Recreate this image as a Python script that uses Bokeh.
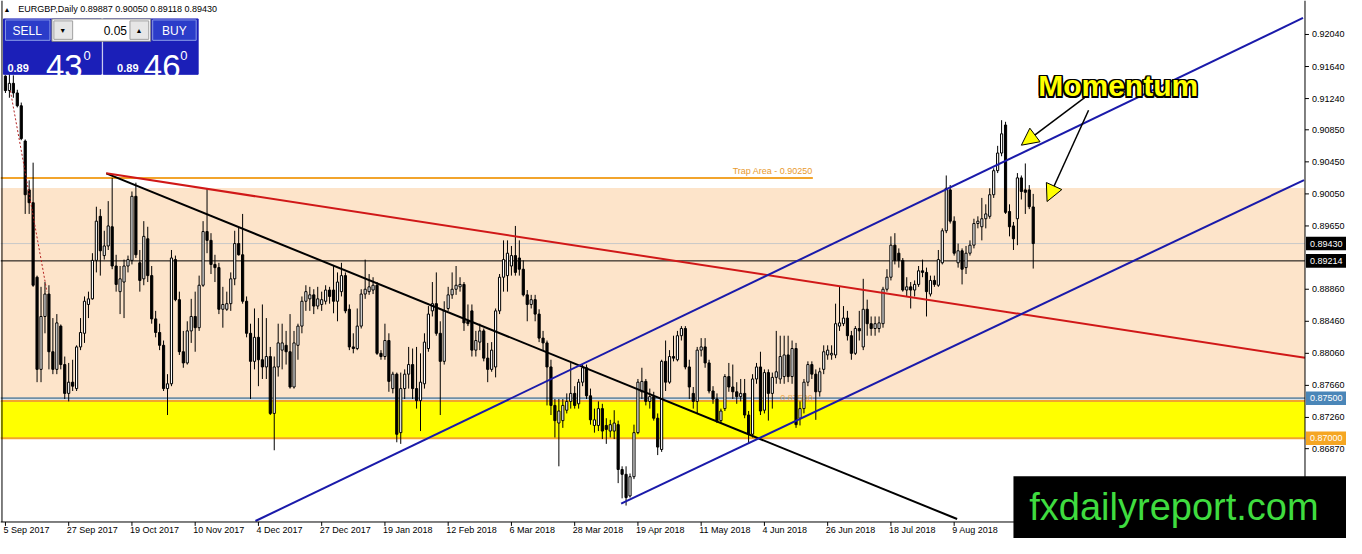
from bokeh.plotting import figure
from bokeh.models import Range1d, Arrow, NormalHead, ColumnDataSource
from bokeh.core.properties import value
from bokeh.embed import file_html
from bokeh.resources import INLINE

FONT = "Liberation Sans"

# ---------------- data ----------------
symbol = "EURGBP"
timeframe = "Daily"

date_tick_bars = [0, 16, 32, 48, 64, 80, 96, 112, 128, 144, 160, 176, 192, 208, 224, 240]
date_tick_labels = ["5 Sep 2017", "27 Sep 2017", "19 Oct 2017", "10 Nov 2017", "4 Dec 2017",
                    "27 Dec 2017", "19 Jan 2018", "12 Feb 2018", "6 Mar 2018", "28 Mar 2018",
                    "19 Apr 2018", "11 May 2018", "4 Jun 2018", "26 Jun 2018", "18 Jul 2018",
                    "9 Aug 2018"]
price_ticks = [0.92040, 0.91640, 0.91240, 0.90850, 0.90450, 0.90050, 0.89650,
               0.88860, 0.88460, 0.88060, 0.87660, 0.87260, 0.86870, 0.86470]
price_tick_labels = ["0.92040", "0.91640", "0.91240", "0.90850", "0.90450", "0.90050", "0.89650",
                     "0.88860", "0.88460", "0.88060", "0.87660", "0.87260", "0.86870", "0.86470"]

opens = [0.9152,0.9134,0.9143,0.9131,0.9115,0.9071,0.9010,0.8994,0.8901,0.8786,
         0.8852,0.8880,0.8808,0.8786,0.8840,0.8792,0.8756,0.8770,0.8762,0.8814,
         0.8831,0.8867,0.8874,0.8922,0.8977,0.8928,0.8940,0.8964,0.8915,0.8883,
         0.8895,0.8915,0.8922,0.9002,0.8919,0.8899,0.8949,0.8903,0.8849,0.8832,
         0.8816,0.8762,0.8768,0.8923,0.8873,0.8808,0.8794,0.8834,0.8852,0.8838,
         0.8891,0.8958,0.8947,0.8917,0.8913,0.8861,0.8861,0.8868,0.8899,0.8943,
         0.8929,0.8871,0.8831,0.8796,0.8826,0.8798,0.8789,0.8802,0.8731,0.8789,
         0.8810,0.8816,0.8808,0.8764,0.8816,0.8840,0.8871,0.8874,0.8879,0.8865,
         0.8867,0.8871,0.8885,0.8885,0.8871,0.8883,0.8903,0.8861,0.8814,0.8812,
         0.8840,0.8880,0.8883,0.8885,0.8891,0.8806,0.8802,0.8822,0.8762,0.8780,
         0.8707,0.8762,0.8780,0.8792,0.8762,0.8747,0.8768,0.8812,0.8859,0.8868,
         0.8831,0.8796,0.8862,0.8879,0.8886,0.8889,0.8892,0.8846,0.8859,0.8810,
         0.8820,0.8834,0.8800,0.8786,0.8789,0.8859,0.8901,0.8903,0.8915,0.8928,
         0.8925,0.8911,0.8879,0.8867,0.8873,0.8855,0.8825,0.8819,0.8789,0.8741,
         0.8719,0.8722,0.8735,0.8746,0.8756,0.8743,0.8770,0.8788,0.8753,0.8716,
         0.8716,0.8737,0.8716,0.8709,0.8709,0.8717,0.8661,0.8655,0.8628,0.8652,
         0.8707,0.8758,0.8771,0.8746,0.8752,0.8725,0.8686,0.8796,0.8770,0.8802,
         0.8798,0.8828,0.8837,0.8789,0.8756,0.8746,0.8810,0.8814,0.8794,0.8759,
         0.8749,0.8722,0.8737,0.8777,0.8764,0.8758,0.8752,0.8756,0.8729,0.8705,
         0.8774,0.8789,0.8735,0.8782,0.8756,0.8776,0.8774,0.8777,0.8804,0.8777,
         0.8812,0.8725,0.8737,0.8770,0.8792,0.8780,0.8758,0.8786,0.8804,0.8804,
         0.8804,0.8840,0.8843,0.8850,0.8828,0.8806,0.8837,0.8814,0.8861,0.8843,
         0.8837,0.8837,0.8843,0.8886,0.8901,0.8941,0.8931,0.8922,0.8885,0.8889,
         0.8885,0.8892,0.8909,0.8907,0.8880,0.8897,0.8891,0.8919,0.8959,0.9010,
         0.8971,0.8919,0.8934,0.8913,0.8931,0.8941,0.8968,0.8964,0.8974,0.8977,
         0.9004,0.9034,0.9056,0.9091,0.8983,0.8965,0.8974,0.9025,0.9010,0.9010,
         0.89887]
highs = [0.9153,0.9155,0.9153,0.9135,0.9119,0.9073,0.9022,0.9044,0.8903,0.8889,
         0.8895,0.8891,0.8850,0.8855,0.8842,0.8802,0.8794,0.8798,0.8816,0.8850,
         0.8877,0.8883,0.8931,0.8989,0.8986,0.8959,0.8996,0.9025,0.8929,0.8915,
         0.8923,0.8928,0.9008,0.9019,0.8935,0.8971,0.8964,0.8915,0.8859,0.8843,
         0.8822,0.8780,0.8935,0.8928,0.8883,0.8834,0.8846,0.8874,0.8883,0.8903,
         0.8971,0.9012,0.8956,0.8929,0.8919,0.8889,0.8883,0.8907,0.8959,0.8964,
         0.8980,0.8877,0.8843,0.8862,0.8850,0.8867,0.8850,0.8814,0.8802,0.8843,
         0.8843,0.8834,0.8855,0.8834,0.8843,0.8877,0.8891,0.8889,0.8886,0.8889,
         0.8883,0.8891,0.8889,0.8915,0.8907,0.8919,0.8907,0.8867,0.8831,0.8862,
         0.8886,0.8923,0.8905,0.8901,0.8895,0.8810,0.8843,0.8831,0.8783,0.8782,
         0.8782,0.8786,0.8814,0.8812,0.8814,0.8806,0.8831,0.8865,0.8895,0.8907,
         0.8846,0.8871,0.8889,0.8907,0.8915,0.8901,0.8895,0.8867,0.8867,0.8834,
         0.8843,0.8837,0.8819,0.8820,0.8862,0.8905,0.8947,0.8947,0.8940,0.8965,
         0.8947,0.8922,0.8885,0.8879,0.8879,0.8861,0.8834,0.8822,0.8798,0.8749,
         0.8749,0.8749,0.8756,0.8794,0.8765,0.8774,0.8792,0.8792,0.8762,0.8737,
         0.8746,0.8743,0.8725,0.8723,0.8735,0.8722,0.8665,0.8665,0.8656,0.8717,
         0.8774,0.8788,0.8774,0.8762,0.8758,0.8731,0.8798,0.8822,0.8810,0.8828,
         0.8834,0.8840,0.8840,0.8798,0.8764,0.8814,0.8825,0.8825,0.8798,0.8765,
         0.8756,0.8737,0.8780,0.8794,0.8792,0.8770,0.8774,0.8774,0.8734,0.8780,
         0.8794,0.8808,0.8786,0.8786,0.8782,0.8834,0.8828,0.8828,0.8828,0.8822,
         0.8819,0.8746,0.8774,0.8796,0.8796,0.8786,0.8788,0.8816,0.8816,0.8816,
         0.8868,0.8889,0.8865,0.8859,0.8834,0.8840,0.8859,0.8899,0.8873,0.8852,
         0.8852,0.8852,0.8889,0.8911,0.8952,0.8956,0.8937,0.8925,0.8901,0.8895,
         0.8897,0.8915,0.8923,0.8913,0.8903,0.8903,0.8935,0.8962,0.9028,0.9016,
         0.8977,0.8943,0.8937,0.8940,0.8947,0.8974,0.8977,0.9000,0.8992,0.9012,
         0.9037,0.9065,0.9097,0.9095,0.8992,0.8970,0.9031,0.9028,0.9043,0.9016,
         0.90050]
lows = [0.9131,0.9125,0.9125,0.9113,0.9072,0.8980,0.8980,0.8889,0.8770,0.8770,
        0.8831,0.8786,0.8780,0.8780,0.8786,0.8749,0.8746,0.8759,0.8759,0.8810,
        0.8819,0.8850,0.8873,0.8907,0.8903,0.8923,0.8935,0.8911,0.8883,0.8855,
        0.8850,0.8907,0.8917,0.8925,0.8883,0.8891,0.8895,0.8843,0.8826,0.8810,
        0.8759,0.8729,0.8765,0.8871,0.8804,0.8788,0.8792,0.8819,0.8808,0.8834,
        0.8889,0.8931,0.8905,0.8895,0.8855,0.8838,0.8859,0.8859,0.8891,0.8928,
        0.8868,0.8826,0.8749,0.8786,0.8765,0.8774,0.8774,0.8729,0.8685,0.8777,
        0.8786,0.8792,0.8762,0.8762,0.8798,0.8831,0.8859,0.8859,0.8855,0.8861,
        0.8859,0.8867,0.8868,0.8856,0.8846,0.8877,0.8856,0.8810,0.8806,0.8810,
        0.8837,0.8874,0.8879,0.8880,0.8804,0.8798,0.8798,0.8758,0.8756,0.8695,
        0.8693,0.8749,0.8762,0.8749,0.8737,0.8709,0.8762,0.8808,0.8852,0.8828,
        0.8729,0.8792,0.8859,0.8874,0.8879,0.8883,0.8834,0.8840,0.8802,0.8802,
        0.8810,0.8796,0.8770,0.8783,0.8776,0.8855,0.8883,0.8883,0.8903,0.8903,
        0.8903,0.8877,0.8846,0.8862,0.8846,0.8820,0.8810,0.8741,0.8729,0.8701,
        0.8665,0.8713,0.8731,0.8737,0.8737,0.8737,0.8765,0.8749,0.8717,0.8707,
        0.8709,0.8699,0.8693,0.8701,0.8699,0.8644,0.8625,0.8616,0.8626,0.8649,
        0.8705,0.8749,0.8741,0.8737,0.8722,0.8679,0.8683,0.8759,0.8768,0.8796,
        0.8796,0.8822,0.8786,0.8749,0.8737,0.8731,0.8802,0.8788,0.8756,0.8743,
        0.8719,0.8719,0.8734,0.8758,0.8749,0.8743,0.8746,0.8725,0.8693,0.8701,
        0.8768,0.8729,0.8731,0.8722,0.8737,0.8768,0.8768,0.8768,0.8770,0.8768,
        0.8713,0.8716,0.8731,0.8765,0.8774,0.8723,0.8752,0.8780,0.8798,0.8798,
        0.8800,0.8834,0.8840,0.8822,0.8798,0.8804,0.8822,0.8810,0.8828,0.8828,
        0.8828,0.8832,0.8838,0.8883,0.8897,0.8917,0.8913,0.8883,0.8877,0.8862,
        0.8877,0.8889,0.8901,0.8852,0.8877,0.8889,0.8889,0.8917,0.8956,0.8968,
        0.8928,0.8913,0.8892,0.8905,0.8928,0.8937,0.8962,0.8947,0.8962,0.8974,
        0.9000,0.9031,0.9052,0.8980,0.8952,0.8935,0.8941,0.8998,0.8980,0.8986,
        0.89118]
closes = [0.9134,0.9143,0.9131,0.9115,0.9074,0.9004,0.8994,0.8891,0.8786,0.8852,
          0.8880,0.8808,0.8786,0.8844,0.8792,0.8756,0.8770,0.8765,0.8814,0.8832,
          0.8871,0.8874,0.8922,0.8971,0.8934,0.8940,0.8965,0.8915,0.8892,0.8899,
          0.8915,0.8923,0.9002,0.8929,0.8897,0.8952,0.8903,0.8849,0.8832,0.8816,
          0.8762,0.8768,0.8925,0.8873,0.8808,0.8794,0.8834,0.8852,0.8838,0.8891,
          0.8958,0.8947,0.8917,0.8913,0.8861,0.8867,0.8868,0.8899,0.8943,0.8929,
          0.8871,0.8831,0.8796,0.8826,0.8798,0.8789,0.8802,0.8731,0.8789,0.8819,
          0.8819,0.8808,0.8764,0.8819,0.8840,0.8871,0.8883,0.8879,0.8865,0.8874,
          0.8873,0.8885,0.8877,0.8871,0.8895,0.8903,0.8859,0.8814,0.8812,0.8840,
          0.8880,0.8886,0.8889,0.8891,0.8806,0.8802,0.8822,0.8771,0.8780,0.8705,
          0.8762,0.8780,0.8792,0.8762,0.8747,0.8770,0.8820,0.8855,0.8868,0.8831,
          0.8796,0.8859,0.8879,0.8886,0.8891,0.8892,0.8844,0.8843,0.8810,0.8822,
          0.8834,0.8800,0.8786,0.8810,0.8859,0.8901,0.8923,0.8931,0.8928,0.8907,
          0.8911,0.8879,0.8867,0.8873,0.8855,0.8825,0.8819,0.8789,0.8741,0.8722,
          0.8734,0.8741,0.8746,0.8756,0.8741,0.8770,0.8788,0.8753,0.8723,0.8723,
          0.8737,0.8709,0.8711,0.8717,0.8719,0.8661,0.8655,0.8626,0.8652,0.8707,
          0.8770,0.8771,0.8746,0.8752,0.8725,0.8689,0.8796,0.8770,0.8802,0.8800,
          0.8828,0.8837,0.8789,0.8764,0.8746,0.8810,0.8814,0.8794,0.8759,0.8749,
          0.8722,0.8734,0.8777,0.8764,0.8758,0.8752,0.8756,0.8729,0.8705,0.8774,
          0.8789,0.8734,0.8782,0.8756,0.8776,0.8783,0.8802,0.8804,0.8777,0.8812,
          0.8717,0.8737,0.8770,0.8792,0.8780,0.8758,0.8783,0.8808,0.8810,0.8806,
          0.8843,0.8844,0.8850,0.8828,0.8806,0.8837,0.8834,0.8861,0.8843,0.8837,
          0.8843,0.8844,0.8886,0.8901,0.8941,0.8922,0.8922,0.8885,0.8889,0.8885,
          0.8892,0.8909,0.8907,0.8883,0.8897,0.8892,0.8923,0.8959,0.9012,0.8971,
          0.8931,0.8934,0.8911,0.8931,0.8941,0.8968,0.8971,0.8974,0.8980,0.9004,
          0.9034,0.9056,0.9080,0.8982,0.8964,0.8949,0.9025,0.9008,0.9007,0.8989,
          0.89430]

bid_price = 0.89430
ask_price = 0.89460
lot_size = "0.05"
h_line_price = 0.89214
trap_price = 0.90250
trap_text = "Trap Area - 0.90250"
trap_end_bar = 204.25
support_price = 0.87500
lower_price = 0.87000
zone_peach = [0.87500, 0.90125]
zone_yellow = [0.87000, 0.87465]

# analyst drawings: (bar index, price) anchors
black_trend_x, black_trend_y = [25.5, 240.75], [0.90307, 0.85992]
red_trend_x, red_trend_y = [25.5, 328.75], [0.90307, 0.88004]
chan_up_x, chan_up_y = [63.25, 328.25], [0.85967, 0.92246]
chan_lo_x, chan_lo_y = [155.75, 328.5], [0.86185, 0.90222]
hist_x, hist_y = [1.25, 10.5], [0.91337, 0.88828]

annotation_text = "Momentum"
logo_text = "fxdailyreport.com"

# ---------------- geometry (reference-pixel helpers for the chart chrome) ----------------
REF_W, REF_H = 1362.0, 554.0
X0, X1 = -1.25, 339.25
Y1 = 0.92464
Y0 = Y1 - REF_H * 0.0001212121


def rx(px):
    return X0 + px * (X1 - X0) / REF_W


def ry(py):
    return Y1 - py * (Y1 - Y0) / REF_H


def dy(npx):
    return npx * (Y1 - Y0) / REF_H


CHART_R = rx(1320)   # right edge of the price area (price scale beyond)
CHART_B = ry(537)    # bottom edge of the price area (time scale below)

p = figure(width=1346, height=538, x_range=Range1d(X0, X1), y_range=Range1d(Y0, Y1),
           output_backend="svg", toolbar_location=None,
           x_axis_location=None, y_axis_location=None,
           min_border_left=0, min_border_top=0, min_border_bottom=0, min_border_right=0,
           background_fill_color="white", border_fill_color="white")
p.grid.visible = False
p.outline_line_color = None


def txt(x, y, s, size, color, align="left", baseline="alphabetic", style="normal",
        x_offset=0, alpha=1.0):
    p.text(x=[x], y=[y], text=[s], text_align=align, text_baseline=baseline,
           text_font=value(FONT), text_font_size=size, text_color=color,
           text_font_style=style, x_offset=x_offset, text_alpha=alpha)


# zones
p.quad(left=[X0, X0], right=[CHART_R, CHART_R], bottom=[zone_peach[0], zone_yellow[0]],
       top=[zone_peach[1], zone_yellow[1]], fill_color=["#FDE4CA", "#FFFF00"], line_color=None)
p.segment(x0=[X0] * 5, x1=[CHART_R] * 5,
          y0=[zone_yellow[1], lower_price, support_price, bid_price, h_line_price],
          y1=[zone_yellow[1], lower_price, support_price, bid_price, h_line_price],
          line_color=["#F2A42C", "#F2A42C", "#6F8FA6", "#C8C8C8", "black"],
          line_width=[2, 2, 2, 1, 1])

# trap area line + descriptions
p.line([X0, trap_end_bar], [trap_price, trap_price], line_color="#F2A42C", line_width=2)
txt(trap_end_bar, trap_price + dy(2), trap_text, "9px", "#E89A2E", "right", "bottom")
txt(trap_end_bar, support_price, "0.87500", "9px", "#E89A2E", "right", "middle", alpha=0.8)

# candles
idx = list(range(len(closes)))
body_top = [max(o, c) for o, c in zip(opens, closes)]
body_bot = [min(o, c) for o, c in zip(opens, closes)]
colors = ["white" if c >= o else "black" for o, c in zip(opens, closes)]
src = ColumnDataSource(dict(x=idx, h=highs, l=lows, t=body_top, b=body_bot, c=colors))
p.segment(x0="x", y0="h", x1="x", y1="l", source=src, line_color="black", line_width=1)
p.vbar(x="x", width=0.55, top="t", bottom="b", fill_color="c", line_color="black",
       line_width=1, source=src)

# drawings
p.line(hist_x, hist_y, line_color="#B22222", line_width=1, line_dash="2 2")
p.line(black_trend_x, black_trend_y, line_color="black", line_width=2)
p.line(red_trend_x, red_trend_y, line_color="#D01818", line_width=2)
p.line(chan_up_x, chan_up_y, line_color="#1A1AAA", line_width=2)
p.line(chan_lo_x, chan_lo_y, line_color="#1A1AAA", line_width=2)

# ---- scales drawn in MT4 style ----
p.segment(x0=[CHART_R, X0, rx(1.5)], x1=[CHART_R, CHART_R, rx(1.5)],
          y0=[Y1, CHART_B, Y1], y1=[Y0, CHART_B, CHART_B], line_color="black", line_width=1)
p.segment(x0=[CHART_R] * len(price_ticks), x1=[rx(1324)] * len(price_ticks),
          y0=price_ticks, y1=price_ticks, line_color="black", line_width=1)
p.text(x=[rx(1327)] * len(price_ticks), y=price_ticks, text=price_tick_labels,
       text_baseline="middle", text_font=value(FONT), text_font_size="9px", text_color="black")
p.segment(x0=date_tick_bars, x1=date_tick_bars, y0=[CHART_B] * len(date_tick_bars),
          y1=[ry(541)] * len(date_tick_bars), line_color="black", line_width=1)
p.text(x=date_tick_bars, y=[ry(540)] * len(date_tick_bars), text=date_tick_labels,
       x_offset=-2, text_baseline="top", text_font=value(FONT), text_font_size="9px",
       text_color="black")

# price tags on the right scale
tag_prices = [bid_price, h_line_price, support_price, lower_price]
tag_colors = ["black", "black", "#4A86B8", "#F5A623"]
p.quad(left=[rx(1321)] * 4, right=[rx(1362)] * 4,
       top=[t + dy(7) for t in tag_prices], bottom=[t - dy(7) for t in tag_prices],
       fill_color=tag_colors, line_color=None)
p.text(x=[rx(1325)] * 4, y=tag_prices, text=["%.5f" % t for t in tag_prices],
       text_baseline="middle", text_font=value(FONT), text_font_size="9px", text_color="white")

# header
txt(rx(3), ry(9), "\u25B2", "7px", "black", baseline="middle")
header = "%s,%s  %.5f %.5f %.5f %.5f" % (symbol, timeframe, opens[-1], highs[-1], lows[-1], closes[-1])
txt(rx(18), ry(9), header, "9px", "black", baseline="middle")

# one-click trading panel
panel_boxes = [  # left, right, top, bottom (reference px), fill, line
    (3, 102, 19, 76, "#1B1FB8", "#1B1FB8"),
    (104, 200, 19, 76, "#1B1FB8", "#1B1FB8"),
    (5, 50, 20, 41, "#2B3CC9", "#8A9BE8"),
    (154, 198, 20, 41, "#2B3CC9", "#8A9BE8"),
    (52, 152, 19, 42, "white", "#808080"),
    (54, 73, 21, 40, "#E6E6E6", "#A0A0A0"),
    (131, 150, 21, 40, "#E6E6E6", "#A0A0A0"),
]
p.quad(left=[rx(b[0]) for b in panel_boxes], right=[rx(b[1]) for b in panel_boxes],
       top=[ry(b[2]) for b in panel_boxes], bottom=[ry(b[3]) for b in panel_boxes],
       fill_color=[b[4] for b in panel_boxes], line_color=[b[5] for b in panel_boxes])

bid_s, ask_s = "%.5f" % bid_price, "%.5f" % ask_price
txt(rx(27), ry(31), "SELL", "12px", "white", "center", "middle")
txt(rx(176), ry(31), "BUY", "12px", "white", "center", "middle")
txt(rx(128), ry(31), lot_size, "12px", "black", "right", "middle")
txt(rx(63), ry(31), "\u25BC", "7px", "black", "center", "middle")
txt(rx(140), ry(31), "\u25B2", "7px", "black", "center", "middle")
txt(rx(7), ry(69), bid_s[:4], "11px", "white", style="bold")
txt(rx(46), ry(68), bid_s[4:6], "33px", "white")
txt(rx(84), ry(57), bid_s[6], "13px", "white")
txt(rx(118), ry(69), ask_s[:4], "11px", "white", style="bold")
txt(rx(145), ry(68), ask_s[4:6], "33px", "white")
txt(rx(182), ry(57), ask_s[6], "13px", "white")

# Momentum annotation with black outline
offs = [(-1.5, -1.5), (0, -1.5), (1.5, -1.5), (-1.5, 0), (1.5, 0), (-1.5, 1.5), (0, 1.5), (1.5, 1.5), (0, 0)]
msrc = ColumnDataSource(dict(x=[rx(1050)] * len(offs), y=[ry(88)] * len(offs),
                             t=[annotation_text] * len(offs),
                             xo=[o[0] for o in offs], yo=[o[1] for o in offs],
                             c=["black"] * (len(offs) - 1) + ["#FFFF00"]))
p.text(x="x", y="y", text="t", x_offset="xo", y_offset="yo", text_color="c", source=msrc,
       text_font=value(FONT), text_font_size="30px", text_font_style="bold",
       text_baseline="alphabetic")

for (xs, ys, xe, ye) in [(1097, 100, 1033, 149), (1101, 113, 1059, 207)]:
    p.add_layout(Arrow(end=NormalHead(size=17, fill_color="#FFFF00", line_color="black", line_width=1),
                       x_start=rx(xs), y_start=ry(ys), x_end=rx(xe), y_end=ry(ye),
                       line_color="black", line_width=1.5))

# logo
p.quad(left=[rx(1025)], right=[rx(1362)], top=[ry(490)], bottom=[ry(554)],
       fill_color="black", line_color=None)
txt(rx(1041), ry(522), logo_text, "38px", "#3FDC3F", baseline="middle")

open("out.html", "w").write(file_html(p, INLINE))
